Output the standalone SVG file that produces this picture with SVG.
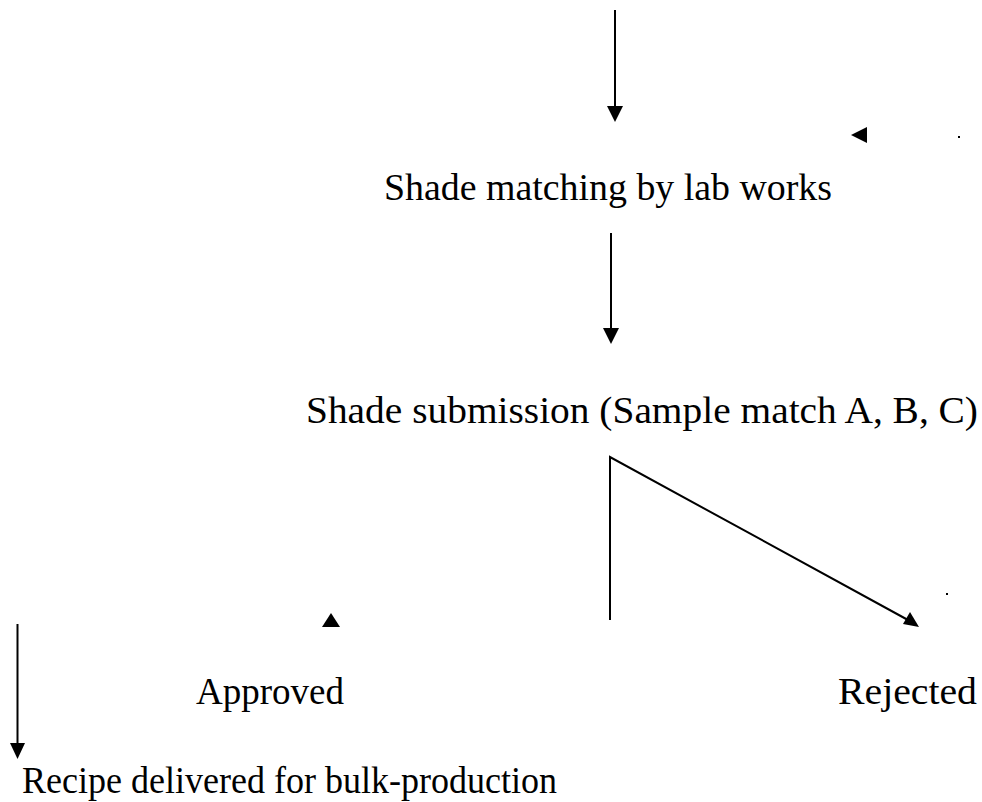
<svg xmlns="http://www.w3.org/2000/svg" width="982" height="802" viewBox="0 0 982 802">
<style>
.t{font-family:"Liberation Serif","Times New Roman",serif;font-size:37px;fill:#000}
.c{stroke:#000;stroke-width:2;fill:none}
.h{fill:#000;stroke:none}
</style>
<rect width="982" height="802" fill="#fff"/>
<g id="connectors">
<line class="c" x1="615" y1="10" x2="615" y2="108"/>
<polygon class="h" points="607,106 623,106 615,122"/>
<polygon class="h" points="851,135 867,127 867,143"/>
<rect class="h" x="958" y="136" width="2" height="2"/>
<line class="c" x1="611" y1="233" x2="611" y2="330"/>
<polygon class="h" points="603,328 619,328 611,344"/>
<polyline class="c" points="610,620 610,457 908,620"/>
<polygon class="h" points="919,627 903,624 910,612"/>
<rect class="h" x="946" y="593" width="2" height="2"/>
<polygon class="h" points="331,613 340,627 322,627"/>
<line class="c" x1="17.5" y1="624" x2="17.5" y2="745"/>
<polygon class="h" points="10,743 25,743 17.5,759"/>
</g>
<g id="node-shade-matching"><text class="t" x="384" y="200" textLength="448" lengthAdjust="spacingAndGlyphs">Shade matching by lab works</text></g>
<g id="node-shade-submission"><text class="t" x="306" y="423" textLength="672" lengthAdjust="spacingAndGlyphs">Shade submission (Sample match A, B, C)</text></g>
<g id="node-approved"><text class="t" x="196" y="704">Approved</text></g>
<g id="node-rejected"><text class="t" x="838" y="704" textLength="139" lengthAdjust="spacingAndGlyphs">Rejected</text></g>
<g id="node-recipe"><text class="t" x="22" y="793" textLength="535" lengthAdjust="spacingAndGlyphs">Recipe delivered for bulk-production</text></g>
</svg>
